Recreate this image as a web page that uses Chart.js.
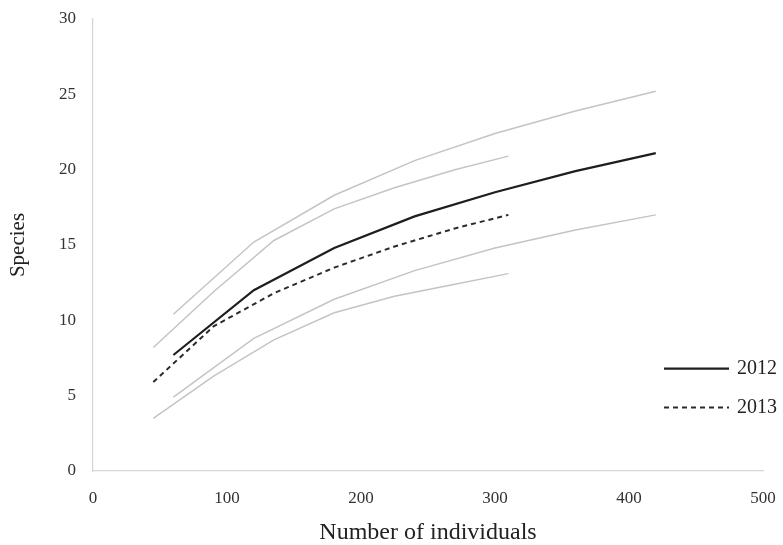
<!DOCTYPE html>
<html>
<head>
<meta charset="utf-8">
<script src="https://cdn.jsdelivr.net/npm/chart.js@4/dist/chart.umd.min.js"></script>
<style>
  html, body { margin: 0; padding: 0; background: #fff; }
  #wrap { width: 783px; height: 545px; position: relative; }
</style>
</head>
<body>
<div id="wrap"><canvas id="c" width="783" height="545"></canvas></div>
<script>
// Rarefaction curves: species accumulated against number of individuals sampled
const individuals2012 = [60, 120, 180, 240, 300, 360, 420];
const species2012     = [7.7, 12.0, 14.8, 16.9, 18.5, 19.9, 21.1];
const upper2012       = [10.4, 15.2, 18.3, 20.6, 22.4, 23.9, 25.2];
const lower2012       = [4.9, 8.8, 11.4, 13.3, 14.8, 16.0, 17.0];

const individuals2013 = [45, 90, 135, 180, 225, 270, 310];
const species2013     = [5.9, 9.6, 11.8, 13.5, 14.9, 16.1, 17.0];
const upper2013       = [8.2, 11.9, 15.3, 17.4, 18.8, 20.0, 20.9];
const lower2013       = [3.5, 6.3, 8.7, 10.5, 11.6, 12.4, 13.1];

const legendLabels = ['2012', '2013'];
const xTicks = [0, 100, 200, 300, 400, 500];
const yTicks = [0, 5, 10, 15, 20, 25, 30];

const SERIF = '"Liberation Serif", "DejaVu Serif", serif';

const pts = (xs, ys) => xs.map((x, i) => ({ x: x, y: ys[i] }));

const boundStyle = { borderColor: '#c4c4c4', borderWidth: 1.5, pointRadius: 0, tension: 0, fill: false };

// Legend drawn inside the plot area, right side, for the two mean curves
const inlineLegend = {
  id: 'inlineLegend',
  afterDatasetsDraw(chart) {
    const ctx = chart.ctx;
    const area = chart.chartArea;
    const yScale = chart.scales.y;
    const x0 = area.right - 99, x1 = area.right - 34, tx = area.right - 26;
    ctx.save();
    ctx.font = '20px ' + SERIF;
    ctx.textBaseline = 'middle';
    ctx.textAlign = 'left';
    legendLabels.forEach((lab, i) => {
      const ds = chart.data.datasets.find(d => d.label === lab);
      const y = yScale.getPixelForValue(6.8) + i * 39;
      ctx.strokeStyle = ds.borderColor;
      ctx.lineWidth = ds.borderWidth;
      ctx.setLineDash(ds.borderDash || []);
      ctx.beginPath();
      ctx.moveTo(x0, y);
      ctx.lineTo(x1, y);
      ctx.stroke();
      ctx.setLineDash([]);
      ctx.fillStyle = '#222';
      ctx.fillText(lab, tx, y);
    });
    ctx.restore();
  }
};

new Chart(document.getElementById('c'), {
  type: 'line',
  data: {
    datasets: [
      Object.assign({ label: '2012 upper', data: pts(individuals2012, upper2012) }, boundStyle),
      Object.assign({ label: '2012 lower', data: pts(individuals2012, lower2012) }, boundStyle),
      Object.assign({ label: '2013 upper', data: pts(individuals2013, upper2013) }, boundStyle),
      Object.assign({ label: '2013 lower', data: pts(individuals2013, lower2013) }, boundStyle),
      { label: '2013', data: pts(individuals2013, species2013), borderColor: '#2b2b2b', borderWidth: 2,
        borderDash: [5, 4], pointRadius: 0, tension: 0, fill: false },
      { label: '2012', data: pts(individuals2012, species2012), borderColor: '#1e1e1e', borderWidth: 2.2,
        pointRadius: 0, tension: 0, fill: false }
    ]
  },
  options: {
    responsive: false,
    animation: false,
    layout: { padding: { top: 19, right: 20, left: 0, bottom: 0 } },
    plugins: { legend: { display: false }, tooltip: { enabled: false } },
    scales: {
      x: {
        type: 'linear',
        min: 0, max: 500,
        afterFit(s) { s.height = 74; s.paddingLeft = 0; s.paddingRight = 0; },
        afterBuildTicks(s) { s.ticks = xTicks.map(v => ({ value: v })); },
        grid: { display: false, drawTicks: false },
        border: { display: true, color: '#d6d6d6', width: 1.2 },
        ticks: { padding: 17, color: '#333', font: { family: SERIF, size: 17 } },
        title: { display: true, text: 'Number of individuals', color: '#222',
                 font: { family: SERIF, size: 24, lineHeight: 1 }, padding: { top: 0, bottom: 0 } }
      },
      y: {
        type: 'linear',
        min: 0, max: 30,
        afterFit(s) { s.width = 93; s.paddingTop = 0; s.paddingBottom = 0; },
        afterBuildTicks(s) { s.ticks = yTicks.map(v => ({ value: v })); },
        grid: { display: false, drawTicks: false },
        border: { display: true, color: '#d6d6d6', width: 1.2 },
        ticks: { padding: 17, color: '#333', font: { family: SERIF, size: 17 } },
        title: { display: true, text: 'Species', color: '#222',
                 font: { family: SERIF, size: 21, lineHeight: 1 }, padding: { top: 8, bottom: 0 } }
      }
    }
  },
  plugins: [inlineLegend]
});
</script>
</body>
</html>
